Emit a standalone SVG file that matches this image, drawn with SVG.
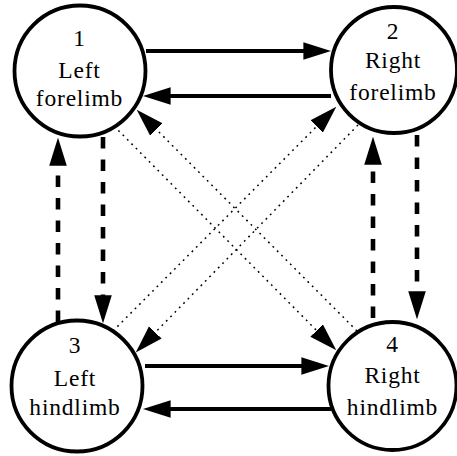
<svg xmlns="http://www.w3.org/2000/svg" width="457" height="456" viewBox="0 0 457 456">
<defs>
<style>
.node circle{fill:#fff;stroke:#000;stroke-width:3.8}
.node text{font-family:"Liberation Serif","Times New Roman",serif;font-size:23.5px;fill:#000;text-anchor:middle;letter-spacing:0.8px}
.solid{stroke:#000;stroke-width:3.8;fill:none}
.dashed{stroke:#000;stroke-width:4.6;fill:none;stroke-dasharray:11.5 11}
.dotted{stroke:#000;stroke-width:1.5;fill:none;stroke-dasharray:1.8 4.4}
</style>
<marker id="ah" markerUnits="userSpaceOnUse" markerWidth="28" markerHeight="18" viewBox="0 0 27 17" refX="17" refY="8.5" orient="auto">
<path d="M0,0 L27,8.5 L0,17 Z" fill="#000"/>
</marker>
</defs>
<g id="connectors">
<line class="solid" x1="146" y1="51" x2="321" y2="51" marker-end="url(#ah)"/>
<line class="solid" x1="331" y1="96" x2="153" y2="96" marker-end="url(#ah)"/>
<line class="solid" x1="145" y1="366" x2="319" y2="366" marker-end="url(#ah)"/>
<line class="solid" x1="331" y1="409" x2="153" y2="409" marker-end="url(#ah)"/>
<line class="dashed" x1="58" y1="322" x2="58" y2="148" marker-end="url(#ah)"/>
<line class="dashed" x1="103" y1="137" x2="103" y2="313" marker-end="url(#ah)"/>
<line class="dashed" x1="417" y1="135" x2="417" y2="309" marker-end="url(#ah)"/>
<line class="dashed" x1="373" y1="318" x2="373" y2="147" marker-end="url(#ah)"/>
<line class="dotted" x1="114" y1="126" x2="329" y2="343" marker-end="url(#ah)"/>
<line class="dotted" x1="357" y1="331" x2="144" y2="117" marker-end="url(#ah)"/>
<line class="dotted" x1="113" y1="331" x2="329" y2="114" marker-end="url(#ah)"/>
<line class="dotted" x1="358" y1="125" x2="143" y2="345" marker-end="url(#ah)"/>
</g>
<g id="node1" class="node">
<circle cx="80" cy="71" r="65.5"/>
<text x="79.5" y="45.5">1</text>
<text x="79.5" y="78">Left</text>
<text x="79.5" y="106">forelimb</text>
</g>
<g id="node2" class="node">
<circle cx="394" cy="70" r="63"/>
<text x="393" y="39">2</text>
<text x="393" y="68">Right</text>
<text x="393" y="100">forelimb</text>
</g>
<g id="node3" class="node">
<circle cx="77" cy="386" r="65.5"/>
<text x="75" y="353">3</text>
<text x="75" y="386">Left</text>
<text x="75" y="415">hindlimb</text>
</g>
<g id="node4" class="node">
<circle cx="392.5" cy="386" r="64"/>
<text x="392.5" y="352">4</text>
<text x="392.5" y="383">Right</text>
<text x="392.5" y="415">hindlimb</text>
</g>
</svg>
